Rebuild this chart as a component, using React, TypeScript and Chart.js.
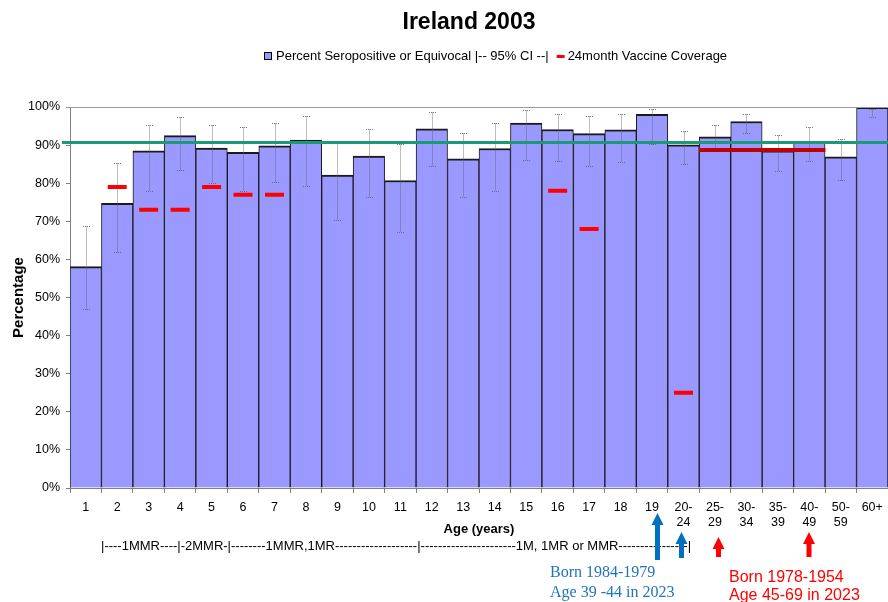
import React, { useEffect, useRef } from 'react';
import { Chart, registerables } from 'chart.js';

Chart.register(...registerables);

const FONT = '"Liberation Sans", Arial, sans-serif';
const SERIF = '"Liberation Serif", "Times New Roman", serif';

const chartTitle = 'Ireland 2003';
const seriesLabel = 'Percent Seropositive or Equivocal |-- 95% CI --|';
const coverageLabel = '24month Vaccine Coverage';

const ageGroups: (string | string[])[] = [
  '1', '2', '3', '4', '5', '6', '7', '8', '9', '10', '11', '12', '13', '14', '15', '16', '17', '18', '19',
  ['20-', '24'], ['25-', '29'], ['30-', '34'], ['35-', '39'], ['40-', '49'], ['50-', '59'], '60+',
];

const seropositive = [
  58.1, 74.7, 88.5, 92.5, 89.2, 88.1, 89.8, 91.3, 82.1, 87.1, 80.7, 94.3, 86.4, 89.1, 95.8, 94.1, 93.0, 94.0, 98.1,
  90.1, 92.2, 96.2, 88.5, 90.9, 86.9, 99.9,
];

const ciLower = [
  47.0, 62.0, 78.0, 83.4, 80.0, 78.0, 80.4, 79.3, 70.3, 76.3, 67.3, 84.6, 76.3, 78.0, 86.2, 85.7, 84.5, 85.6, 90.3,
  85.1, 89.0, 93.1, 83.3, 85.7, 80.8, 97.3,
];

const ciUpper = [
  68.8, 85.2, 95.3, 97.3, 95.3, 94.7, 95.7, 97.6, 90.8, 94.1, 90.3, 98.6, 93.1, 95.9, 99.2, 98.2, 97.6, 98.2, 99.4,
  93.8, 95.2, 98.2, 92.6, 94.8, 91.7, 99.4,
];

const vaccineCoverage24m: (number | null)[] = [
  null, 79, 73, 73, 79, 77, 77, null, null, null, null, null, null, null, null, 78, 68, null, null,
  25, null, null, null, null, null, null,
];

const olderCohortCoverage: (number | null)[] = [
  null, null, null, null, null, null, null, null, null, null, null, null, null, null, null, null, null, null, null,
  null, 88.7, 88.7, 88.7, 88.7, null, null,
];

const herdImmunityLevel = 90.7;

const yTickValues = [0, 10, 20, 30, 40, 50, 60, 70, 80, 90, 100];

const scheduleText =
  '|----1MMR----|-2MMR-|--------1MMR,1MR-------------------|----------------------1M, 1MR or MMR----------------|';
const blueNote = ['Born 1984-1979', 'Age 39 -44 in 2023'];
const redNote = ['Born 1978-1954', 'Age 45-69 in 2023'];

function drawArrow(ctx: CanvasRenderingContext2D, x: number, tipY: number, baseY: number, color: string) {
  const shaft = 5;
  const headW = 12;
  const headH = 12;
  ctx.fillStyle = color;
  ctx.beginPath();
  ctx.moveTo(x, tipY);
  ctx.lineTo(x + headW / 2, tipY + headH);
  ctx.lineTo(x + shaft / 2, tipY + headH);
  ctx.lineTo(x + shaft / 2, baseY);
  ctx.lineTo(x - shaft / 2, baseY);
  ctx.lineTo(x - shaft / 2, tipY + headH);
  ctx.lineTo(x - headW / 2, tipY + headH);
  ctx.closePath();
  ctx.fill();
}

const overlayPlugin = {
  id: 'overlayPlugin',
  afterDatasetDraw(chart: any, args: any) {
    if (args.index !== 0) return;
    const { ctx, scales } = chart;
    const x = scales.x;
    const y = scales.y;
    ctx.save();
    ctx.strokeStyle = 'rgba(100,100,100,0.85)';
    ctx.lineWidth = 1;
    ctx.setLineDash([1, 1]);
    ciLower.forEach((lo, i) => {
      const hi = ciUpper[i];
      const px = Math.round(x.getPixelForValue(i)) + 0.5;
      const yl = Math.round(y.getPixelForValue(lo)) + 0.5;
      const yh = Math.round(y.getPixelForValue(hi)) + 0.5;
      ctx.beginPath();
      ctx.moveTo(px, yh);
      ctx.lineTo(px, yl);
      ctx.moveTo(px - 3.5, yh);
      ctx.lineTo(px + 3.5, yh);
      ctx.moveTo(px - 3.5, yl);
      ctx.lineTo(px + 3.5, yl);
      ctx.stroke();
    });
    ctx.restore();
  },
  afterDatasetsDraw(chart: any) {
    const { ctx, chartArea, scales } = chart;
    const y = scales.y;
    ctx.save();
    ctx.strokeStyle = '#9a9a9a';
    ctx.lineWidth = 1;
    ctx.beginPath();
    ctx.moveTo(chartArea.left - 4, Math.round(chartArea.top) + 0.5);
    ctx.lineTo(chartArea.right, Math.round(chartArea.top) + 0.5);
    ctx.stroke();
    const gy = y.getPixelForValue(herdImmunityLevel);
    ctx.strokeStyle = '#1B9A78';
    ctx.lineWidth = 3;
    ctx.beginPath();
    ctx.moveTo(chartArea.left - 8, gy);
    ctx.lineTo(chartArea.right, gy);
    ctx.stroke();
    ctx.restore();
  },
  afterDraw(chart: any) {
    const { ctx } = chart;
    ctx.save();
    ctx.fillStyle = '#000';
    ctx.font = `bold 23px ${FONT}`;
    ctx.textAlign = 'center';
    ctx.textBaseline = 'alphabetic';
    ctx.fillText(chartTitle, 469, 28.5);

    ctx.font = `13px ${FONT}`;
    ctx.textAlign = 'left';
    ctx.textBaseline = 'middle';
    const ly = 56.5;
    ctx.fillStyle = '#9999FF';
    ctx.fillRect(264.5, 52.5, 7, 7);
    ctx.strokeStyle = '#000';
    ctx.lineWidth = 1;
    ctx.strokeRect(264.5, 52.5, 7, 7);
    ctx.fillStyle = '#000';
    ctx.fillText(seriesLabel, 276, ly);
    const w0 = ctx.measureText(seriesLabel).width;
    const mx = 276 + w0 + 8;
    ctx.strokeStyle = '#FF0000';
    ctx.lineWidth = 3;
    ctx.beginPath();
    ctx.moveTo(mx, ly);
    ctx.lineTo(mx + 8, ly);
    ctx.stroke();
    ctx.fillText(coverageLabel, mx + 11, ly);

    ctx.fillStyle = '#000';
    ctx.font = `13px ${FONT}`;
    ctx.textBaseline = 'middle';
    ctx.fillText(scheduleText, 101, 546);

    drawArrow(ctx, 657.5, 513, 560, '#0070C0');
    drawArrow(ctx, 681.5, 532, 558, '#0070C0');
    drawArrow(ctx, 718.5, 537, 557, '#FF0000');
    drawArrow(ctx, 809, 532, 557, '#FF0000');

    ctx.textBaseline = 'alphabetic';
    ctx.fillStyle = '#1F74BE';
    ctx.font = `16px ${SERIF}`;
    ctx.fillText(blueNote[0], 550, 577);
    ctx.fillText(blueNote[1], 550, 596.5);
    ctx.fillStyle = '#FF0000';
    ctx.font = `16px ${FONT}`;
    ctx.fillText(redNote[0], 729, 581.5);
    ctx.fillText(redNote[1], 729, 599.5);
    ctx.restore();
  },
};

export default function App() {
  const canvasRef = useRef<HTMLCanvasElement | null>(null);

  useEffect(() => {
    const canvas = canvasRef.current;
    if (!canvas) return;
    Chart.defaults.font.family = FONT;
    const chart = new Chart(canvas, {
      type: 'bar',
      data: {
        labels: ageGroups as any,
        datasets: [
          {
            type: 'bar',
            label: seriesLabel,
            data: seropositive,
            backgroundColor: '#9999FF',
            borderColor: '#1a1a1a',
            borderWidth: { top: 2, left: 1, right: 1, bottom: 0 } as any,
            borderSkipped: 'start',
            barPercentage: 1,
            categoryPercentage: 1,
            order: 3,
          },
          {
            type: 'line',
            label: coverageLabel,
            data: vaccineCoverage24m,
            showLine: false,
            pointStyle: 'line',
            pointRadius: 9.5,
            pointHoverRadius: 9.5,
            pointBorderWidth: 4,
            pointBorderColor: '#FF0000',
            borderColor: '#FF0000',
            backgroundColor: '#FF0000',
            order: 1,
          },
          {
            type: 'line',
            label: 'Coverage (older cohorts)',
            data: olderCohortCoverage,
            showLine: false,
            pointStyle: 'line',
            pointRadius: 16,
            pointHoverRadius: 16,
            pointBorderWidth: 4,
            pointBorderColor: '#C00000',
            borderColor: '#C00000',
            backgroundColor: '#C00000',
            order: 2,
          },
        ],
      },
      options: {
        animation: false,
        responsive: false,
        maintainAspectRatio: false,
        layout: { autoPadding: false, padding: { top: 107, left: 0, right: 0, bottom: 0 } },
        plugins: {
          legend: { display: false },
          title: { display: false },
          tooltip: { enabled: false },
        },
        scales: {
          x: {
            offset: true,
            grid: { offset: true, drawOnChartArea: false, drawTicks: true, tickLength: 5, color: '#808080' },
            border: { display: true, color: '#808080', width: 1 },
            ticks: {
              autoSkip: false,
              maxRotation: 0,
              minRotation: 0,
              padding: 7,
              color: '#000',
              font: { family: FONT, size: 12.5 },
            },
            title: {
              display: true,
              text: 'Age (years)',
              color: '#000',
              font: { family: FONT, size: 13, weight: 'bold' },
              padding: { top: 4, bottom: 65 },
            },
            afterFit: (s: any) => {
              s.height = 114;
              s.paddingLeft = 0;
              s.paddingRight = 0;
            },
          },
          y: {
            min: 0,
            max: 100,
            afterBuildTicks: (s: any) => {
              s.ticks = yTickValues.map((v) => ({ value: v }));
            },
            ticks: {
              stepSize: 10,
              callback: (v: any) => `${v}%`,
              padding: 6,
              color: '#000',
              font: { family: FONT, size: 12.5 },
            },
            grid: { drawOnChartArea: false, drawTicks: true, tickLength: 4, color: '#808080' },
            border: { display: true, color: '#808080', width: 1 },
            title: {
              display: true,
              text: 'Percentage',
              color: '#000',
              font: { family: FONT, size: 15, weight: 'bold' },
              padding: { top: 10, bottom: 4 },
            },
            afterFit: (s: any) => {
              s.width = 70;
            },
          },
        },
      },
      plugins: [overlayPlugin],
    });
    return () => chart.destroy();
  }, []);

  return (
    <div style={{ position: 'absolute', left: 0, top: 0, width: 888, height: 602, background: '#fff' }}>
      <canvas ref={canvasRef} width={888} height={602} style={{ display: 'block', width: 888, height: 602 }} />
    </div>
  );
}
